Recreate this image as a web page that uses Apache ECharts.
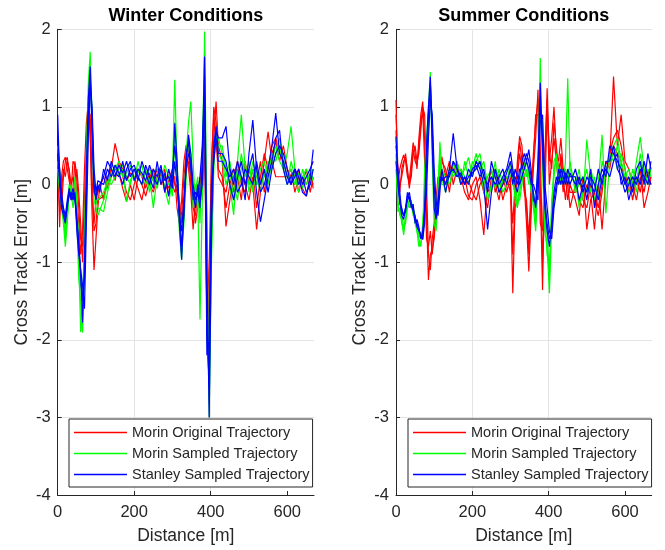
<!DOCTYPE html>
<html><head><meta charset="utf-8">
<script src="https://cdn.jsdelivr.net/npm/echarts@6/dist/echarts.min.js"></script>
<style>html,body{margin:0;padding:0;background:#fff}#c{width:665px;height:550px}</style>
</head><body><div id="c"></div>
<script>
// ---------- distances (m) ----------
const W_DIST = [0,5,10,15,20,25,30,35,40,45,50,55,60,65,70,75,80,85,90,95,100,105,
110,120,130,140,150,160,170,180,190,200,210,220,230,240,250,260,270,280,290,300,
306,312,318,324,330,336,342,348,354,360,366,372,378,384,390,396,402,408,414,420,
430,440,450,460,470,480,490,500,510,520,530,540,550,560,570,580,590,600,610,620,630,640,650,660,668];

const S_DIST = [0,5,10,15,20,25,30,35,40,45,50,55,60,65,70,75,80,85,90,95,100,105,110,115,120,
130,140,150,160,170,180,190,200,210,220,230,240,250,260,270,280,290,
300,306,312,318,324,330,336,342,348,354,360,366,372,378,384,390,396,402,408,414,420,426,432,438,444,450,456,
470,480,490,500,510,520,530,540,550,560,570,580,590,600,610,620,630,640,650,660,668];

// ---------- Winter runs (cross track error, m) ----------
const W_MORIN_ORIG_1 = [0.4,-0.55,0.1,0.3,0.35,0.2,0.05,-0.1,0.3,0.25,-0.2,-0.5,-0.9,-0.6,0.2,0.8,1.05,0.6,-0.4,-1.1,-0.7,-0.3,
0.0,-0.2,0.1,0.2,0.53,0.3,0.1,-0.1,-0.2,0.0,0.2,0.1,-0.05,0.15,0.05,0.2,0.0,0.1,-0.05,0.1,
0.1,-0.3,-0.5,-0.2,0.3,0.51,0.2,-0.1,-0.58,-0.2,0.0,-0.2,0.3,0.9,-0.5,-2.3,-0.5,0.6,1.07,0.5,
0.3,-0.54,-0.2,0.1,0.3,0.0,-0.1,0.2,0.0,-0.58,-0.1,0.3,0.68,0.3,0.1,0.1,0.1,0.1,0.2,-0.1,0.1,0.0,0.2,-0.1,0.1];
const W_MORIN_ORIG_2 = [0.3,0.2,-0.3,0.1,0.3,0.35,0.15,-0.2,-0.05,0.3,0.1,-0.3,-0.7,-0.8,-0.2,0.5,0.95,0.9,0.1,-0.6,-0.5,-0.2,
-0.2,-0.15,0.0,0.1,0.2,0.15,-0.05,-0.22,0.0,-0.2,0.1,0.0,-0.15,0.05,0.2,0.0,0.15,-0.1,0.05,0.2,
0.0,-0.1,-0.3,-0.4,0.1,0.4,0.45,0.0,-0.3,-0.4,-0.1,0.1,-0.2,0.6,-1.2,-1.9,0.2,1.0,0.8,0.2,
0.1,-0.3,0.0,0.2,0.1,-0.2,0.3,0.0,0.2,-0.3,0.1,0.4,0.2,0.5,0.6,0.4,0.3,0.1,0.0,0.2,-0.1,0.1,0.0,0.15,-0.05];
const W_MORIN_ORIG_3 = [0.2,-0.3,-0.1,0.2,0.1,0.3,0.2,0.0,0.1,-0.1,0.2,-0.1,-0.5,-1.0,-0.5,0.3,1.0,0.7,-0.2,-0.5,-0.2,-0.1,
-0.1,0.1,-0.05,0.2,0.05,0.3,0.2,0.05,0.15,0.1,-0.05,-0.2,0.05,0.0,-0.1,0.1,0.05,0.2,-0.15,0.0,
-0.1,0.0,-0.2,-0.5,-0.2,0.2,0.3,0.1,-0.2,-0.5,-0.3,0.0,0.4,0.7,-1.8,-1.0,0.3,0.9,0.6,0.1,
0.0,-0.1,0.2,-0.1,0.2,0.1,0.0,-0.2,0.1,0.0,0.3,-0.1,0.2,0.4,0.55,0.3,0.5,0.2,0.1,0.0,0.2,-0.05,-0.15,0.1,0.0];

const W_MORIN_SAMP_1 = [0.3,0.0,-0.3,-0.5,-0.8,-0.5,-0.1,0.0,-0.2,0.1,-0.2,-0.9,-1.9,-1.7,-0.6,0.4,1.3,1.71,0.7,-0.2,-0.3,-0.4,
-0.4,-0.2,0.0,0.15,0.25,0.1,0.2,-0.22,0.05,0.2,0.15,0.25,0.0,0.1,-0.3,0.1,0.2,-0.05,-0.26,0.1,
1.35,0.2,-0.6,-0.97,-0.3,0.4,0.8,1.07,0.3,-0.3,-0.1,-1.74,-0.2,1.97,-0.5,-3.0,-0.8,0.3,0.6,0.5,
0.5,0.2,0.0,-0.39,0.3,0.9,0.2,0.0,0.3,0.1,-0.1,0.2,0.0,0.3,0.5,0.3,0.2,0.4,0.75,0.2,0.0,0.1,0.2,0.0,0.1];
const W_MORIN_SAMP_2 = [0.5,0.2,-0.2,-0.4,-0.7,-0.4,-0.05,-0.1,-0.3,-0.1,-0.4,-1.2,-1.5,-1.91,-1.0,0.2,1.1,1.6,0.9,0.0,-0.2,-0.3,
-0.3,-0.35,-0.1,0.1,0.2,0.3,0.1,0.15,0.25,0.05,0.3,0.1,0.2,-0.1,0.15,0.2,0.05,0.25,0.1,-0.15,
0.8,0.3,-0.4,-0.8,-0.4,0.3,0.5,0.4,-0.2,0.0,-0.2,-0.3,0.2,1.5,-1.5,-2.8,-1.0,0.2,0.7,0.4,
0.3,0.0,0.2,-0.2,0.0,0.4,0.1,0.3,-0.1,0.2,0.0,0.1,0.3,0.2,0.4,0.6,0.3,0.1,0.2,0.0,0.15,-0.05,0.1,0.2,0.05];
const W_MORIN_SAMP_3 = [0.2,-0.1,-0.2,-0.3,-0.6,-0.3,0.0,-0.15,-0.1,0.05,-0.3,-0.7,-1.3,-1.5,-0.8,0.0,0.9,1.4,0.8,0.1,-0.1,-0.2,
-0.2,-0.1,0.05,0.0,0.1,0.2,0.25,0.1,0.0,0.2,0.1,0.0,0.15,0.2,0.05,-0.05,0.2,0.1,0.0,0.05,
0.5,0.1,-0.3,-0.9,-0.5,0.1,0.6,0.3,-0.3,-0.1,0.1,-0.5,0.5,1.7,-2.0,-2.5,-0.3,0.4,0.5,0.6,
0.4,0.1,0.3,0.0,-0.2,0.2,0.3,-0.1,0.2,0.0,0.2,0.3,0.1,0.4,0.3,0.5,0.2,0.0,0.3,0.1,-0.1,0.2,0.0,0.1,0.2];

const W_STANLEY_SAMP_1 = [0.9,0.1,-0.2,-0.35,-0.45,-0.3,-0.1,-0.15,-0.05,-0.15,-0.4,-0.8,-1.1,-1.78,-1.0,0.2,1.1,1.52,0.6,-0.1,-0.15,-0.05,
0.0,0.1,0.3,0.2,0.1,0.25,0.15,0.3,0.1,0.2,0.05,0.3,0.15,0.0,0.2,0.1,0.25,-0.1,0.2,0.0,
0.79,0.3,-0.5,-0.97,-0.3,0.3,0.64,0.4,0.0,-0.2,-0.1,-0.3,0.3,1.65,-1.0,-3.0,-0.6,0.4,0.7,0.6,
0.6,0.75,0.2,0.0,0.3,0.1,-0.2,0.4,0.83,0.2,-0.1,0.0,0.2,0.5,0.92,0.4,0.3,0.1,0.0,0.2,0.1,-0.1,-0.15,0.1,0.45];
const W_STANLEY_SAMP_2 = [0.6,0.2,-0.1,-0.3,-0.4,-0.2,-0.05,-0.2,-0.1,-0.2,-0.5,-0.7,-1.2,-1.5,-1.2,-0.2,0.9,1.4,0.8,0.0,-0.2,0.0,
-0.1,0.2,0.05,0.3,0.15,0.1,0.3,0.05,0.2,0.25,0.1,0.0,0.25,0.1,-0.05,0.3,0.0,0.15,-0.15,0.2,
0.5,0.2,-0.3,-0.8,-0.4,0.4,0.55,0.2,-0.1,-0.3,0.0,-0.2,0.0,1.4,-1.8,-2.6,-0.2,0.5,0.75,0.4,
0.4,0.3,0.0,-0.2,0.1,0.3,0.0,0.2,0.4,-0.1,-0.48,-0.2,0.1,0.3,0.6,0.7,0.2,0.0,0.1,0.2,0.0,0.1,-0.1,0.0,0.2];
const W_STANLEY_SAMP_3 = [0.4,0.0,-0.3,-0.4,-0.5,-0.25,-0.15,-0.1,-0.2,-0.1,-0.6,-0.9,-0.9,-1.3,-1.6,-0.5,0.6,1.3,1.0,0.2,-0.1,0.05,
0.05,0.0,0.2,0.1,0.25,0.15,0.0,0.2,0.3,0.05,0.2,0.15,0.05,0.25,0.1,0.0,0.2,0.05,0.1,-0.05,
0.3,0.0,-0.4,-0.6,-0.2,0.2,0.4,0.3,-0.2,-0.1,-0.15,0.1,0.5,1.2,-2.2,-2.0,0.0,0.3,0.6,0.3,
0.3,0.2,0.1,0.2,-0.1,0.0,0.2,0.1,0.0,0.3,0.0,0.2,-0.1,0.2,0.4,0.5,0.4,0.2,0.0,0.1,0.2,0.0,0.1,0.2,0.3];

// ---------- Summer runs ----------
const S_MORIN_ORIG_1 = [1.09,0.0,0.2,0.3,0.38,0.3,0.1,0.05,0.3,0.54,0.4,0.2,0.6,0.9,1.07,0.6,-0.4,-1.23,-0.9,-0.84,-0.7,-0.3,0.0,0.2,0.36,
0.1,0.3,0.0,0.2,0.1,-0.1,-0.2,0.0,0.1,-0.2,-0.65,0.0,0.2,-0.1,0.1,-0.2,0.0,
0.0,-1.4,-0.3,0.3,0.62,0.5,0.0,-0.5,-1.12,-0.4,0.2,0.6,1.22,0.0,-1.36,0.2,1.24,0.3,0.6,1.0,0.4,0.3,0.6,0.2,0.1,-0.2,0.0,
-0.2,-0.4,0.1,-0.58,-0.2,-0.1,-0.3,0.0,0.2,0.3,1.39,0.5,0.9,0.3,0.2,0.0,-0.2,0.1,-0.1,0.2,0.0];
const S_MORIN_ORIG_2 = [0.9,0.2,-0.1,0.2,0.3,0.35,0.2,0.0,0.1,0.4,0.5,0.3,0.4,0.7,1.0,0.9,0.0,-0.9,-1.1,-0.7,-0.5,-0.4,-0.1,0.1,0.2,
0.0,0.2,0.15,0.3,0.0,0.1,-0.15,-0.2,0.0,0.1,-0.1,-0.3,0.1,0.0,-0.2,0.1,-0.1,
0.1,-0.9,-0.2,0.2,0.55,0.3,0.1,-0.3,-0.9,-0.2,0.4,0.8,1.1,0.5,-1.0,-0.2,1.0,0.4,0.2,0.8,0.5,0.2,0.3,-0.1,0.2,0.0,-0.3,
0.0,-0.2,-0.3,0.0,-0.1,-0.58,0.0,-0.58,0.1,0.4,0.6,0.7,0.5,0.2,-0.1,0.1,0.0,0.2,-0.3,-0.1,0.1];
const S_MORIN_ORIG_3 = [0.7,0.1,0.0,0.1,0.25,0.4,0.15,-0.05,0.2,0.45,0.3,0.25,0.5,0.8,0.95,0.3,-0.7,-0.8,-0.6,-0.9,-0.6,-0.2,0.1,0.0,0.3,
0.2,-0.1,0.3,0.1,0.2,0.0,0.05,-0.1,-0.2,0.0,0.1,-0.1,0.0,0.2,-0.1,0.0,0.1,
-0.1,-0.5,0.0,0.1,0.4,0.2,-0.1,-0.2,-0.7,0.0,0.3,0.9,0.9,-0.5,-0.6,0.4,1.1,0.0,0.3,0.6,0.3,0.0,0.4,0.1,-0.2,0.1,-0.1,
-0.1,0.1,-0.2,-0.3,0.0,-0.2,-0.4,-0.1,0.3,0.2,0.5,0.4,0.3,0.0,0.1,-0.2,0.1,-0.1,0.2,0.0,0.1];

const S_MORIN_SAMP_1 = [0.4,-0.35,-0.3,-0.5,-0.6,-0.4,-0.2,-0.25,-0.3,-0.35,-0.5,-0.6,-0.8,-0.75,-0.6,0.2,0.6,1.0,1.45,0.3,-0.5,-0.6,-0.2,0.55,0.2,
0.1,0.0,0.2,0.3,0.1,0.2,0.35,0.1,0.3,0.4,0.1,-0.2,0.0,0.3,-0.1,0.1,0.2,
0.2,0.1,-0.2,-0.3,-0.1,0.1,0.2,0.3,0.1,0.0,-0.3,-0.6,0.0,1.63,0.2,-0.6,-0.8,-1.4,-0.5,0.3,0.38,0.1,0.2,0.0,0.3,1.37,0.2,
0.0,0.2,-0.2,0.58,0.1,-0.2,0.0,0.64,-0.37,0.3,0.5,0.6,0.3,0.1,0.2,0.0,0.3,0.61,0.2,0.0,0.2];
const S_MORIN_SAMP_2 = [0.6,0.0,-0.2,-0.4,-0.55,-0.5,-0.3,-0.2,-0.25,-0.3,-0.4,-0.6,-0.7,-0.8,-0.5,-0.2,0.5,0.9,1.3,0.6,-0.3,-0.5,-0.3,0.3,0.1,
-0.1,0.2,0.1,0.2,0.0,0.3,0.1,0.2,0.4,0.2,0.3,0.0,-0.1,0.2,0.1,-0.1,0.0,
0.3,0.0,-0.1,-0.28,0.0,0.2,0.1,0.2,0.0,0.1,-0.2,-0.5,0.3,1.2,0.5,-0.4,-0.9,-1.1,-0.3,0.2,0.3,0.0,0.1,0.2,0.0,0.2,0.1,
0.1,-0.3,0.0,0.2,-0.1,0.1,-0.2,0.3,0.1,0.4,0.3,0.5,0.2,0.0,-0.1,0.2,0.0,0.4,0.1,0.2,0.1];
const S_MORIN_SAMP_3 = [0.2,-0.2,-0.4,-0.45,-0.65,-0.45,-0.25,-0.3,-0.2,-0.4,-0.45,-0.5,-0.65,-0.7,-0.65,-0.4,0.3,0.7,1.2,0.8,-0.1,-0.4,-0.4,0.4,0.0,
0.0,0.1,0.3,0.1,0.2,0.1,0.0,0.3,0.2,0.3,-0.1,0.1,0.2,-0.05,0.2,0.0,0.1,
0.1,0.2,0.0,-0.2,-0.2,0.0,0.3,0.1,0.2,-0.1,-0.1,-0.4,0.2,0.9,0.8,-0.2,-0.6,-1.2,-0.2,0.1,0.4,0.2,0.0,0.1,0.2,0.0,0.3,
-0.1,0.0,0.1,-0.1,0.2,0.0,0.1,0.0,0.2,0.3,0.4,0.2,0.4,0.2,0.0,0.1,-0.1,0.3,0.0,0.1,0.2];

const S_STANLEY_SAMP_1 = [0.62,0.1,-0.2,-0.4,-0.45,-0.3,-0.1,-0.2,-0.2,-0.3,-0.45,-0.5,-0.5,-0.65,-0.71,-0.3,0.5,1.0,1.39,0.5,-0.3,-0.45,-0.2,0.0,0.1,
0.0,0.2,0.66,0.2,0.1,0.0,0.2,0.1,0.3,0.2,0.0,-0.58,-0.1,0.2,0.0,0.1,0.2,
0.42,0.2,0.0,-0.1,0.1,0.3,0.4,0.3,0.45,0.2,-0.2,-0.24,0.3,1.31,0.4,-0.3,-0.6,-0.8,-0.5,-0.1,0.1,0.0,0.2,0.1,0.0,0.2,0.1,
0.1,-0.2,0.0,-0.1,0.2,-0.3,0.0,0.2,0.1,0.5,0.4,0.3,0.2,0.0,0.1,-0.1,0.2,0.3,0.0,0.4,0.2];
const S_STANLEY_SAMP_2 = [0.5,0.2,-0.1,-0.35,-0.4,-0.35,-0.15,-0.1,-0.25,-0.35,-0.4,-0.55,-0.6,-0.6,-0.7,-0.5,0.2,0.9,1.3,0.7,0.0,-0.4,-0.3,0.1,0.05,
0.1,0.1,0.3,0.2,0.0,0.1,0.0,0.2,0.25,0.1,0.2,-0.1,0.3,0.1,-0.1,0.0,0.15,
0.3,0.1,0.1,0.0,0.2,0.2,0.3,0.4,0.3,0.1,-0.1,-0.3,0.1,1.05,0.6,-0.2,-0.5,-0.7,-0.6,-0.2,0.0,0.1,0.0,0.2,0.1,0.0,0.15,
0.0,0.1,-0.1,0.1,0.0,-0.1,0.2,0.0,0.3,0.3,0.5,0.2,0.1,-0.1,0.0,0.1,0.0,0.2,0.1,0.0,0.3];
const S_STANLEY_SAMP_3 = [0.3,0.0,-0.25,-0.3,-0.4,-0.4,-0.2,-0.15,-0.3,-0.25,-0.5,-0.45,-0.55,-0.7,-0.6,-0.6,-0.1,0.6,1.1,0.9,0.2,-0.2,-0.4,-0.1,0.2,
-0.1,0.15,0.2,0.1,0.15,0.0,0.1,0.15,0.2,0.3,0.1,0.0,0.1,0.0,0.1,0.2,0.0,
0.2,0.0,0.2,0.1,0.0,0.1,0.2,0.3,0.2,0.0,0.0,-0.1,-0.2,0.8,0.9,0.0,-0.3,-0.6,-0.7,-0.3,-0.1,0.2,0.1,0.0,0.15,0.1,0.0,
0.2,0.0,0.1,-0.2,0.1,0.0,-0.2,0.1,0.2,0.1,0.3,0.4,0.0,0.1,-0.2,0.0,0.1,0.0,0.3,0.1,0.0];

// ---------- labels ----------
const SERIES_NAMES = ['Morin Original Trajectory','Morin Sampled Trajectory','Stanley Sampled Trajectory'];
const SERIES_COLORS = ['#ff0000','#00ff00','#0000ff'];
const PANEL_TITLES = ['Winter Conditions','Summer Conditions'];
const X_TICKS = [0,200,400,600];
const X_NAME = 'Distance [m]';
const Y_NAME = 'Cross Track Error [m]';

const FONT = '"Liberation Sans", Arial, Helvetica, sans-serif';
const TXT = '#262626';

const PANELS = [
  {dist: W_DIST, groups: [[W_MORIN_ORIG_1,W_MORIN_ORIG_2,W_MORIN_ORIG_3],[W_MORIN_SAMP_1,W_MORIN_SAMP_2,W_MORIN_SAMP_3],[W_STANLEY_SAMP_1,W_STANLEY_SAMP_2,W_STANLEY_SAMP_3]]},
  {dist: S_DIST, groups: [[S_MORIN_ORIG_1,S_MORIN_ORIG_2,S_MORIN_ORIG_3],[S_MORIN_SAMP_1,S_MORIN_SAMP_2,S_MORIN_SAMP_3],[S_STANLEY_SAMP_1,S_STANLEY_SAMP_2,S_STANLEY_SAMP_3]]}
];

const GRIDS = [
  {left: 57.7, top: 29.3, width: 256.3, height: 466.2},
  {left: 396, top: 29.3, width: 255.7, height: 466.2}
];
const LEGEND_LEFT = [69, 408];

const series = [];
PANELS.forEach((p, pi) => {
  p.groups.forEach((runs, gi) => {
    runs.forEach((run, ri) => {
      if (run.length !== p.dist.length) throw new Error('length mismatch panel '+pi+' group '+gi+' run '+ri+': '+run.length+' vs '+p.dist.length);
      series.push({
        type: 'line', name: SERIES_NAMES[gi], xAxisIndex: pi, yAxisIndex: pi,
        data: p.dist.map((d, i) => [d, run[i]]),
        symbol: 'none', showSymbol: false, smooth: false, clip: true,
        lineStyle: {color: SERIES_COLORS[gi], width: 1.2},
        itemStyle: {color: SERIES_COLORS[gi]},
        emphasis: {disabled: true}, silent: true, z: 2 + gi
      });
    });
  });
});

function xAxis(gi) {
  return {
    type: 'value', gridIndex: gi, min: 0, max: 670, interval: 200,
    name: X_NAME, nameLocation: 'middle', nameGap: 32,
    nameTextStyle: {fontSize: 17.5, color: TXT, fontFamily: FONT},
    axisLine: {show: true, onZero: false, lineStyle: {color: TXT, width: 1}},
    axisTick: {show: true, inside: true, length: 4, customValues: X_TICKS, lineStyle: {color: TXT}},
    axisLabel: {show: true, customValues: X_TICKS, margin: 9, fontSize: 16.5, color: TXT, fontFamily: FONT},
    splitLine: {show: true, showMaxLine: false, lineStyle: {color: '#e3e3e3', width: 1}}
  };
}
function yAxis(gi) {
  return {
    type: 'value', gridIndex: gi, min: -4, max: 2, interval: 1,
    name: Y_NAME, nameLocation: 'middle', nameGap: 27,
    nameTextStyle: {fontSize: 17.5, color: TXT, fontFamily: FONT},
    axisLine: {show: true, onZero: false, lineStyle: {color: TXT, width: 1}},
    axisTick: {show: true, inside: true, length: 4, lineStyle: {color: TXT}},
    axisLabel: {show: true, margin: 7, fontSize: 16.5, color: TXT, fontFamily: FONT},
    splitLine: {show: true, lineStyle: {color: '#e3e3e3', width: 1}}
  };
}

const chart = echarts.init(document.getElementById('c'), null, {renderer: 'canvas'});
chart.setOption({
  animation: false,
  backgroundColor: '#fff',
  grid: GRIDS.map(g => Object.assign({containLabel: false, show: false}, g)),
  xAxis: [xAxis(0), xAxis(1)],
  yAxis: [yAxis(0), yAxis(1)],
  legend: LEGEND_LEFT.map(l => ({
    left: l, top: 419, orient: 'vertical',
    data: SERIES_NAMES.map((n, i) => ({name: n, itemStyle: {color: SERIES_COLORS[i], borderWidth: 0}})),
    icon: 'rect', itemWidth: 53, itemHeight: 1.6, itemGap: 6, padding: [6, 3, 5, 5],
    borderColor: TXT, borderWidth: 1, backgroundColor: '#fff', borderRadius: 0,
    selectedMode: false, z: 10,
    textStyle: {fontSize: 14.5, color: TXT, fontFamily: FONT, lineHeight: 14}
  })),
  graphic: PANEL_TITLES.map((t, i) => ({
    type: 'text', x: GRIDS[i].left + GRIDS[i].width / 2, y: 16.5,
    style: {text: t, fill: '#000', font: 'bold 18px ' + FONT, textAlign: 'center', textVerticalAlign: 'middle'}
  })),
  series: series
});
</script>
</body></html>
